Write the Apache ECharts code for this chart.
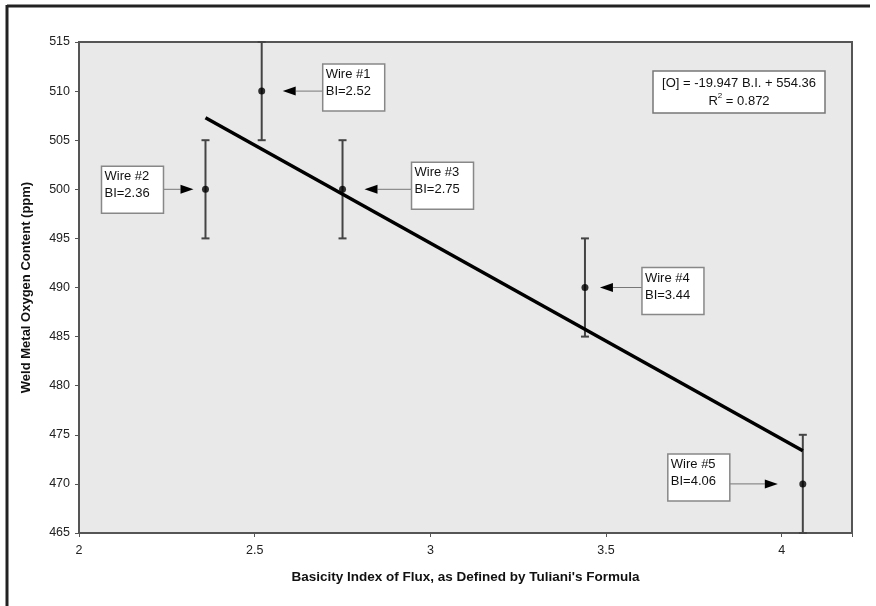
<!DOCTYPE html>
<html>
<head>
<meta charset="utf-8">
<script src="https://cdn.jsdelivr.net/npm/echarts@6/dist/echarts.min.js"></script>
<style>
  html, body { margin: 0; padding: 0; background: #fff; }
  #chart { width: 876px; height: 606px; }
</style>
</head>
<body>
<div id="chart"></div>
<script>
// Weld metal oxygen vs. flux basicity index, one point per wire
const wireNames   = ['Wire #1', 'Wire #2', 'Wire #3', 'Wire #4', 'Wire #5'];
const basicity    = [2.52, 2.36, 2.75, 3.44, 4.06];
const oxygen      = [510, 500, 500, 490, 470];
const oxygenError = [5, 5, 5, 5, 5];

// Least-squares fit printed in the equation box
const fitSlope = -19.947;
const fitIntercept = 554.36;
const fitR2 = 0.872;

const xTicks = [2, 2.5, 3, 3.5, 4];

// Callout placement for each wire label (pixels relative to its point)
const calloutLayout = [
  { side: 'right', tip: 21, box: 61, top: -27 },
  { side: 'left',  tip: 12, box: 42, top: -23 },
  { side: 'right', tip: 22, box: 69, top: -27 },
  { side: 'right', tip: 15, box: 57, top: -20 },
  { side: 'left',  tip: 25, box: 73, top: -30 }
];

const xMin = Math.min(...basicity), xMax = Math.max(...basicity);
const fitLine = [
  [xMin, fitSlope * xMin + fitIntercept],
  [xMax, fitSlope * xMax + fitIntercept]
];

const points = basicity.map((b, i) => [b, oxygen[i]]);
const errorData = basicity.map((b, i) => [b, oxygen[i] - oxygenError[i], oxygen[i] + oxygenError[i]]);

const FONT = 'Liberation Sans, Arial, sans-serif';

const chart = echarts.init(document.getElementById('chart'), null, { renderer: 'canvas' });

chart.setOption({
  animation: false,
  backgroundColor: '#ffffff',
  grid: {
    left: 79, right: 24, top: 42, bottom: 73,
    show: true,
    backgroundColor: '#e9e9e9',
    borderColor: '#555',
    borderWidth: 2
  },
  xAxis: {
    type: 'value',
    min: 2, max: 4.2, interval: 0.5,
    name: "Basicity Index of Flux, as Defined by Tuliani's Formula",
    nameLocation: 'middle',
    nameGap: 37,
    nameTextStyle: { fontFamily: FONT, fontSize: 13.5, fontWeight: 'bold', color: '#111' },
    axisLine: { show: true, onZero: false, lineStyle: { color: '#555', width: 2 } },
    axisTick: { show: true, length: 4, lineStyle: { color: '#555' } },
    splitLine: { show: false },
    axisLabel: {
      fontFamily: FONT, fontSize: 12.5, color: '#222', margin: 11,
      formatter: v => (xTicks.some(t => Math.abs(t - v) < 1e-9) ? String(v) : '')
    }
  },
  yAxis: {
    type: 'value',
    min: 465, max: 515, interval: 5,
    name: 'Weld Metal Oxygen Content (ppm)',
    nameLocation: 'middle',
    nameGap: 46,
    nameTextStyle: { fontFamily: FONT, fontSize: 13, fontWeight: 'bold', color: '#111' },
    axisLine: { show: true, onZero: false, lineStyle: { color: '#555', width: 2 } },
    axisTick: { show: true, length: 4, lineStyle: { color: '#555' } },
    splitLine: { show: false },
    axisLabel: { fontFamily: FONT, fontSize: 12.5, color: '#222', margin: 9 }
  },
  graphic: [
    // outer frame (top and left edges)
    { type: 'line', shape: { x1: 7, y1: 6, x2: 870, y2: 6 }, style: { stroke: '#222', lineWidth: 3 }, z: 100 },
    { type: 'line', shape: { x1: 7, y1: 5, x2: 7, y2: 606 }, style: { stroke: '#222', lineWidth: 3 }, z: 100 },
    // regression equation box
    {
      type: 'rect', shape: { x: 653, y: 71, width: 172, height: 42 },
      style: { fill: '#fff', stroke: '#777', lineWidth: 1.5 }, z: 50
    },
    {
      type: 'text', x: 739, y: 92, z: 51,
      style: {
        text: '[O] = ' + fitSlope + ' B.I. + ' + fitIntercept + '\n{r|R}{sup|2}{r| = ' + fitR2 + '}',
        align: 'center', verticalAlign: 'middle',
        fontFamily: FONT, fontSize: 13, fill: '#111', lineHeight: 18,
        rich: {
          r: { fontFamily: FONT, fontSize: 13, fill: '#111' },
          sup: { fontFamily: FONT, fontSize: 8, fill: '#111', verticalAlign: 'top', padding: [0, 0, 7, 0] }
        }
      }
    }
  ],
  series: [
    {
      name: 'error',
      type: 'custom',
      data: errorData,
      z: 2,
      renderItem: (params, api) => {
        const x = api.value(0);
        const lo = api.coord([x, api.value(1)]);
        const hi = api.coord([x, api.value(2)]);
        const cap = 4;
        const s = { stroke: '#444', lineWidth: 2 };
        return {
          type: 'group',
          children: [
            { type: 'line', shape: { x1: lo[0], y1: lo[1], x2: hi[0], y2: hi[1] }, style: s },
            { type: 'line', shape: { x1: lo[0] - cap, y1: lo[1], x2: lo[0] + cap, y2: lo[1] }, style: s },
            { type: 'line', shape: { x1: hi[0] - cap, y1: hi[1], x2: hi[0] + cap, y2: hi[1] }, style: s }
          ]
        };
      }
    },
    {
      name: 'fit',
      type: 'line',
      data: fitLine,
      showSymbol: false,
      z: 3,
      lineStyle: { color: '#000', width: 3.5 }
    },
    {
      name: 'wires',
      type: 'scatter',
      data: points,
      symbol: 'circle',
      symbolSize: 7,
      z: 4,
      itemStyle: { color: '#000' }
    },
    {
      name: 'callouts',
      type: 'custom',
      data: points,
      z: 5,
      renderItem: (params, api) => {
        const i = params.dataIndex;
        const lay = calloutLayout[i];
        const p = api.coord([api.value(0), api.value(1)]);
        const dir = lay.side === 'right' ? 1 : -1;
        const boxW = 62, boxH = 47, head = 13, halfH = 4.5;
        const tipX = p[0] + dir * lay.tip;
        const baseX = tipX + dir * head;
        const boxEdge = p[0] + dir * lay.box;
        const boxX = dir > 0 ? boxEdge : boxEdge - boxW;
        const boxY = p[1] + lay.top;
        return {
          type: 'group',
          children: [
            { type: 'line', shape: { x1: baseX, y1: p[1], x2: boxEdge, y2: p[1] },
              style: { stroke: '#777', lineWidth: 1 } },
            { type: 'polygon', shape: { points: [[tipX, p[1]], [baseX, p[1] - halfH], [baseX, p[1] + halfH]] },
              style: { fill: '#000' } },
            { type: 'rect', shape: { x: boxX, y: boxY, width: boxW, height: boxH },
              style: { fill: '#fff', stroke: '#888', lineWidth: 1.5 } },
            { type: 'text', x: boxX + 3, y: boxY + 2,
              style: {
                text: wireNames[i] + '\nBI=' + basicity[i].toFixed(2),
                fontFamily: FONT, fontSize: 13, fill: '#111', lineHeight: 17,
                align: 'left', verticalAlign: 'top'
              } }
          ]
        };
      }
    }
  ]
});
</script>
</body>
</html>
